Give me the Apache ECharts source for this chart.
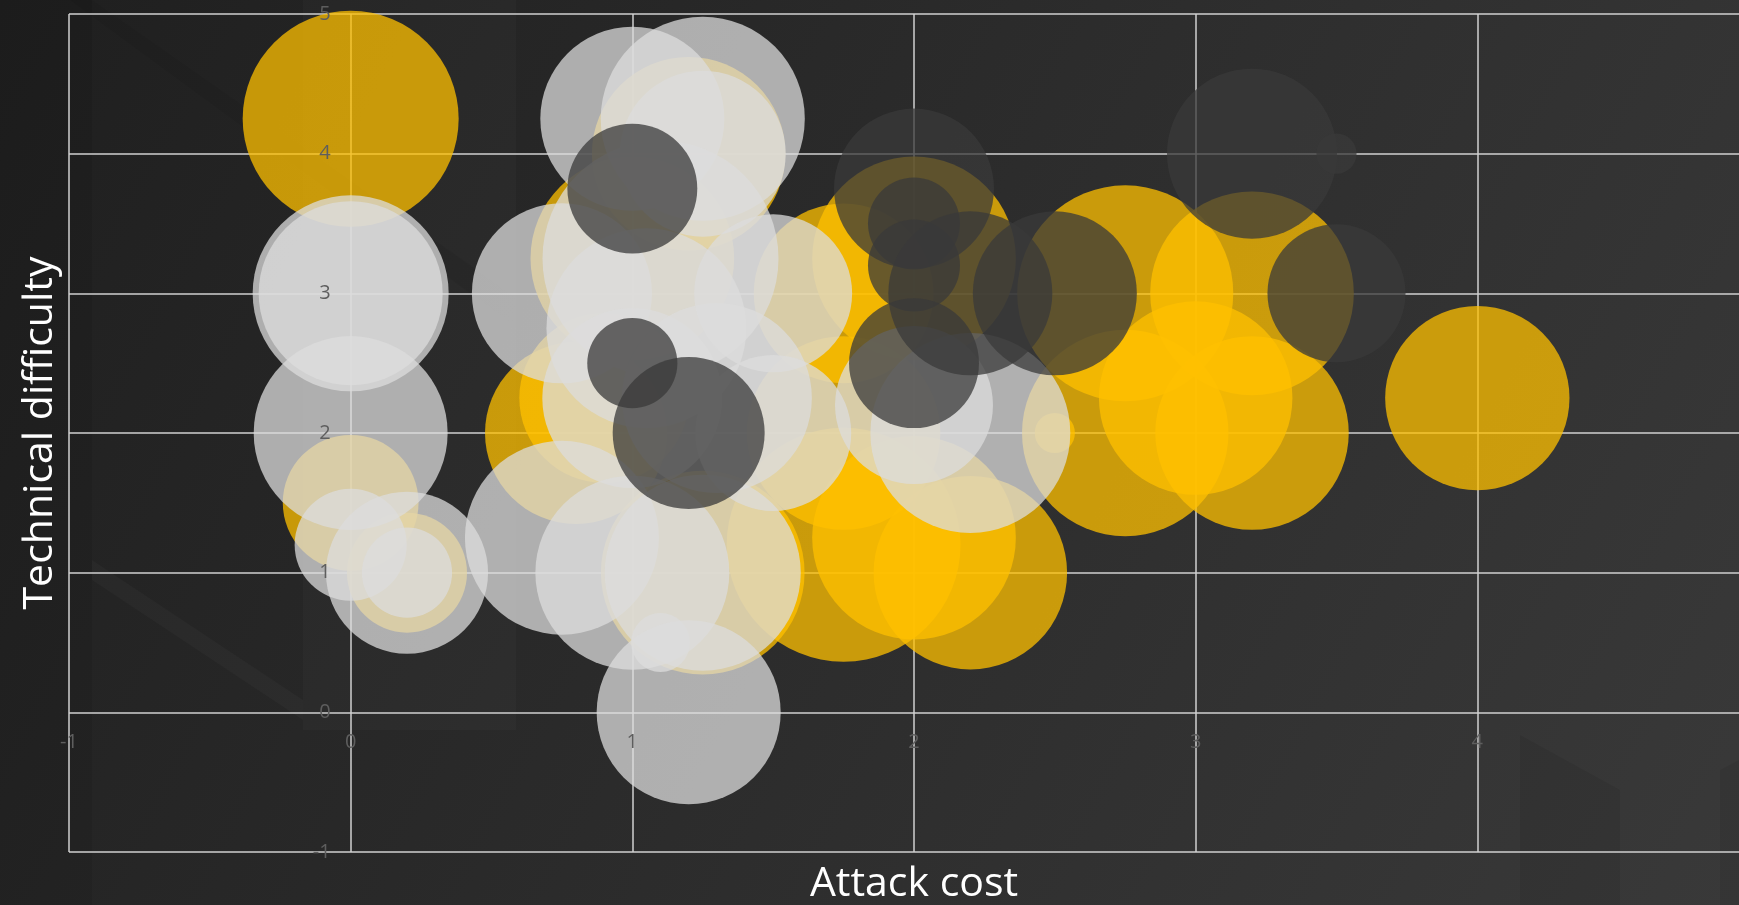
<!DOCTYPE html>
<html>
<head>
<meta charset="utf-8">
<script src="https://cdn.jsdelivr.net/npm/echarts@6/dist/echarts.min.js"></script>
<style>
html,body{margin:0;padding:0;background:#2a2a2a;}
#chart{width:1739px;height:905px;}
</style>
</head>
<body>
<div id="chart"></div>
<script>
// Attack cost (x), Technical difficulty (y), bubble size
const goldX    = [0, 0, 0.2, 0.8, 0.9, 1, 1.2, 1.25, 1.75, 1.75, 1.75, 2, 2.2, 2, 2.5, 2.75, 2.75, 3, 3.2, 3.2, 4];
const goldY    = [4.25, 1.5, 1, 2, 2.25, 3.25, 4, 1, 3, 2, 1.2, 1.25, 1, 3.25, 2, 3, 2, 2.25, 3, 2, 2.25];
const goldSize = [81, 32, 25, 57.5, 50, 72, 65, 72, 56, 65, 95, 72, 65, 72, 2.8, 81, 74, 65, 72, 65, 59];

const grayX    = [0, 0, 0, 0, 0.2, 0.2, 1, 1.25, 1.25, 0.75, 1.1, 1.05, 1.0, 1.3, 0.75, 1, 1.25, 1.1, 1.2, 1.5, 1.5, 2, 2.2];
const grayY    = [3, 3, 2, 1.2, 1, 1, 4.25, 4.25, 4, 3, 3.25, 2.75, 2.25, 2.25, 1.25, 1, 1, 0.5, 0, 3, 2, 2.2, 2];
const graySize = [66.7, 58.8, 65.3, 21.8, 45.6, 14.1, 58.8, 72.3, 47.8, 56.3, 96.7, 69.4, 56.3, 62.7, 65.3, 65.3, 66.7, 6, 58.8, 43.3, 42.3, 43.3, 69.4];

const darkX    = [1, 1, 1.2, 2, 2, 2, 2.2, 2.5, 2, 3.2, 3.5, 3.5];
const darkY    = [3.75, 2.5, 2, 3.75, 3.5, 3.2, 3, 3, 2.5, 4, 4, 3];
const darkSize = [29.3, 14.1, 40.1, 44.4, 14.7, 14.7, 46.7, 46.7, 29.3, 50.2, 2.8, 33.1];

const xTicks = [-1, 0, 1, 2, 3, 4, 5];
const yTicks = [-1, 0, 1, 2, 3, 4, 5];

const toData = (xs, ys, ss) => xs.map((x, i) => [x, ys[i], ss[i]]);
const bubble = v => 24 * Math.sqrt(v[2]);

const W = 1739, H = 905;
const G = { left: 69, right: -20, top: 14, bottom: 53 };
const plotW = W - G.left - G.right, plotH = H - G.top - G.bottom;
const xMin = xTicks[0], xMax = xTicks[xTicks.length - 1];
const yMin = yTicks[0], yMax = yTicks[yTicks.length - 1];
// distance from the grid edges to the zero lines (axes cross at 0,0)
const yAxisShift = (0 - xMin) / (xMax - xMin) * plotW;
const xAxisShift = (0 - yMin) / (yMax - yMin) * plotH;

const chart = echarts.init(document.getElementById('chart'));
const gridLine = { show: true, lineStyle: { color: '#D0D0D0', width: 1.5 } };
const labelStyle = { color: '#5E5E5E', fontSize: 20, fontFamily: 'Open Sans' };
const nameStyle = { color: '#FFFFFF', fontSize: 41, fontFamily: 'Open Sans' };

chart.setOption({
  backgroundColor: new echarts.graphic.LinearGradient(0, 0, 1, 1, [
    { offset: 0, color: '#1f1f1f' },
    { offset: 1, color: '#393939' }
  ]),
  animation: false,
  graphic: [
    { type: 'rect', z: -10, silent: true, shape: { x: 0, y: 0, width: 92, height: H },
      style: { fill: 'rgba(0,0,0,0.07)' } },
    { type: 'polygon', z: -10, silent: true,
      shape: { points: [[303, 0], [516, 0], [516, 730], [303, 730]] },
      style: { fill: 'rgba(255,255,255,0.018)' } },
    { type: 'polygon', z: -10, silent: true,
      shape: { points: [[70, 0], [92, 0], [520, 300], [520, 330]] },
      style: { fill: 'rgba(0,0,0,0.05)' } },
    { type: 'polygon', z: -10, silent: true,
      shape: { points: [[92, 560], [303, 700], [303, 720], [92, 580]] },
      style: { fill: 'rgba(255,255,255,0.025)' } },
    { type: 'polygon', z: -10, silent: true,
      shape: { points: [[1520, 735], [1620, 790], [1620, 905], [1520, 905]] },
      style: { fill: 'rgba(0,0,0,0.07)' } },
    { type: 'polygon', z: -10, silent: true,
      shape: { points: [[1720, 770], [1739, 760], [1739, 905], [1720, 905]] },
      style: { fill: 'rgba(0,0,0,0.06)' } }
  ],
  grid: { left: G.left, right: G.right, top: G.top, bottom: G.bottom, containLabel: false, outerBoundsMode: 'none' },
  xAxis: [
    { // gridlines, under the bubbles
      type: 'value', min: xMin, max: xMax, interval: 1, position: 'bottom',
      axisLine: { show: false, onZero: false }, axisTick: { show: false },
      axisLabel: { show: false }, splitLine: gridLine, z: 0
    },
    { // tick labels and title, over the bubbles
      type: 'value', min: xMin, max: xMax, interval: 1, position: 'bottom',
      offset: -xAxisShift, z: 10,
      axisLine: { show: false, onZero: false }, axisTick: { show: false },
      splitLine: { show: false },
      axisLabel: Object.assign({ margin: 20 }, labelStyle),
      name: 'Attack cost', nameLocation: 'middle', nameGap: 151, nameTextStyle: nameStyle
    }
  ],
  yAxis: [
    {
      type: 'value', min: yMin, max: yMax, interval: 1, position: 'left',
      axisLine: { show: false, onZero: false }, axisTick: { show: false },
      axisLabel: { show: false }, splitLine: gridLine, z: 0
    },
    {
      type: 'value', min: yMin, max: yMax, interval: 1, position: 'left',
      offset: -yAxisShift, z: 10,
      axisLine: { show: false, onZero: false }, axisTick: { show: false },
      splitLine: { show: false },
      axisLabel: Object.assign({ margin: 20 }, labelStyle),
      name: 'Technical difficulty', nameLocation: 'middle', nameGap: 290, nameTextStyle: nameStyle
    }
  ],
  series: [
    { type: 'scatter', clip: false, xAxisIndex: 0, yAxisIndex: 0, data: toData(goldX, goldY, goldSize), symbolSize: bubble,
      itemStyle: { color: '#FFC000', opacity: 0.75 } },
    { type: 'scatter', clip: false, xAxisIndex: 0, yAxisIndex: 0, data: toData(grayX, grayY, graySize), symbolSize: bubble,
      itemStyle: { color: '#DCDCDC', opacity: 0.75 } },
    { type: 'scatter', clip: false, xAxisIndex: 0, yAxisIndex: 0, data: toData(darkX, darkY, darkSize), symbolSize: bubble,
      itemStyle: { color: '#3A3A3A', opacity: 0.75 } }
  ]
});
</script>
</body>
</html>
